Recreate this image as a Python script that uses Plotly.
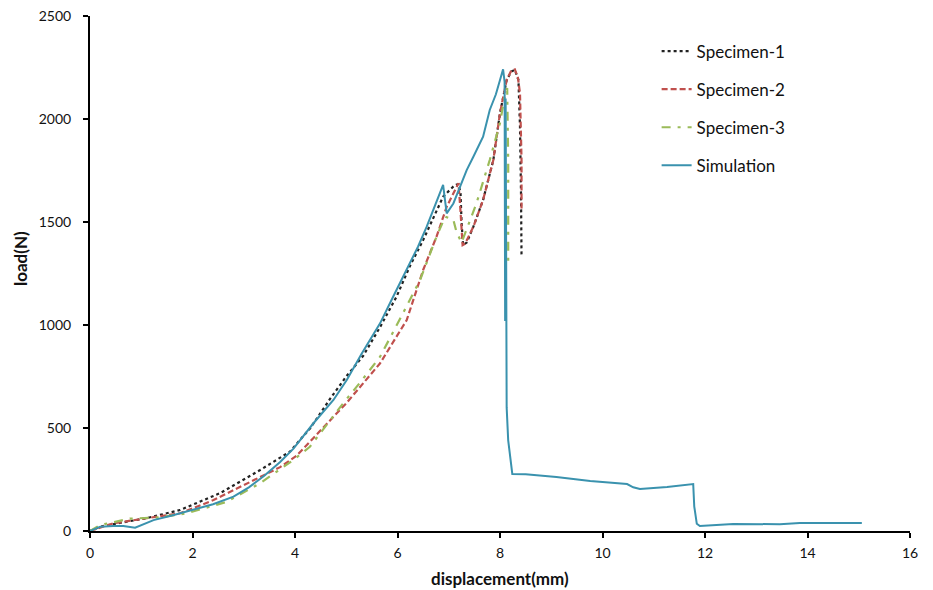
import plotly.graph_objects as go

# Simulation
sim_x = [0, 0.2, 0.45, 0.65, 0.88, 1.24, 1.6, 2.02, 2.4, 2.8, 3.1, 3.4, 3.71, 3.97, 4.36, 4.75, 5.01,
         5.3, 5.66, 5.9, 6.18, 6.4, 6.57, 6.75, 6.89, 6.93, 6.96, 7.09, 7.22, 7.35, 7.48, 7.67,
         7.8, 7.92, 8.0, 8.06, 8.09, 8.1, 8.11, 8.12, 8.13, 8.16, 8.2, 8.24, 8.5, 9.1, 9.76, 10.48,
         10.6, 10.73, 11.26, 11.6, 11.77, 11.79, 11.84, 11.9, 12.55, 13.46, 13.85, 15.06]
sim_y = [0, 21, 24, 24, 16, 53, 75, 102, 130, 167, 212, 268, 335, 400, 523, 636, 733,
         860, 1008, 1130, 1267, 1380, 1477, 1590, 1680, 1600, 1542, 1590, 1671, 1752, 1817, 1914,
         2044, 2120, 2189, 2241, 2180, 1020, 2100, 1000, 600, 440, 345, 277, 275, 262, 243, 228,
         212, 204, 214, 222, 228, 120, 35, 24, 34, 33, 39, 39]

# Specimen-1
s1_x = [0, 0.2, 0.6, 1.1, 1.76, 2.54, 3.32, 3.9, 4.3, 4.68, 5.0, 5.33, 5.66, 5.98, 6.25, 6.5,
        6.89, 7.12, 7.19, 7.23, 7.25, 7.28, 7.35, 7.48, 7.67, 7.87, 8.0, 8.13, 8.22, 8.29, 8.36,
        8.39, 8.41, 8.42]
s1_y = [0, 21, 40, 62, 102, 184, 296, 385, 500, 640, 750, 850, 990, 1137, 1290, 1412,
        1623, 1680, 1684, 1640, 1500, 1388, 1400, 1477, 1607, 1801, 2029, 2189, 2230, 2238, 2189,
        1962, 1640, 1331]

# Specimen-2
s2_x = [0, 0.45, 1.1, 1.76, 2.41, 3.19, 3.71, 4.03, 4.36, 5.0, 5.66, 6.18, 6.5, 6.76, 6.96,
        7.19, 7.23, 7.27, 7.32, 7.48, 7.67, 7.87, 8.0, 8.13, 8.22, 8.29, 8.35, 8.39, 8.42, 8.42]
s2_y = [0, 37, 62, 86, 150, 248, 310, 365, 450, 620, 814, 1024, 1267, 1428, 1574,
        1688, 1550, 1388, 1395, 1477, 1607, 1801, 2029, 2189, 2235, 2241, 2200, 2125, 1801, 1558]

# Specimen-3
s3_x = [0, 0.2, 0.78, 1.3, 1.89, 2.67, 3.32, 3.97, 4.29, 4.94, 5.3, 5.66, 6.05, 6.44, 6.76,
        6.93, 7.09, 7.15, 7.25, 7.54, 7.8, 8.0, 8.1, 8.14, 8.16, 8.16]
s3_y = [0, 29, 60, 65, 86, 142, 232, 345, 409, 620, 730, 846, 1030, 1218, 1428,
        1526, 1510, 1453, 1400, 1590, 1801, 1980, 2125, 2150, 1800, 1300]

x_ticks = [0, 2, 4, 6, 8, 10, 12, 14, 16]
y_ticks = [0, 500, 1000, 1500, 2000, 2500]

FONT = "Lato, 'Open Sans', sans-serif"

fig = go.Figure()
fig.add_trace(go.Scatter(x=s1_x, y=s1_y, mode="lines", name="Specimen-1", legendgroup="a",
                         line=dict(color="#222222", width=2.2, dash="dot")))
fig.add_trace(go.Scatter(x=s2_x, y=s2_y, mode="lines", name="Specimen-2", legendgroup="b",
                         line=dict(color="#C0504D", width=2.2, dash="6px,3px")))
fig.add_trace(go.Scatter(x=s3_x, y=s3_y, mode="lines", name="Specimen-3", legendgroup="c",
                         line=dict(color="#9BBB59", width=2.2, dash="9px,7px,3px,7px")))
fig.add_trace(go.Scatter(x=sim_x, y=sim_y, mode="lines", name="Simulation", legendgroup="d",
                         line=dict(color="#3A92AE", width=2)))

fig.update_layout(
    width=933, height=590,
    margin=dict(l=90, r=23, t=16, b=59, autoexpand=False),
    paper_bgcolor="white", plot_bgcolor="white",
    font=dict(family=FONT, size=14, color="#111111"),
    showlegend=True,
    legend=dict(x=0.691, y=0.966, xanchor="left", yanchor="top",
                bgcolor="rgba(0,0,0,0)", font=dict(size=17), tracegroupgap=13),
    xaxis=dict(range=[0, 16], tickvals=x_ticks, ticktext=[str(v) for v in x_ticks],
               showgrid=False, zeroline=False, showline=True, linecolor="black", linewidth=2,
               ticks="outside", ticklen=5, tickwidth=2, tickcolor="black",
               tickfont=dict(size=14), automargin=False, ticklabelstandoff=3),
    yaxis=dict(range=[0, 2500], tickvals=y_ticks, ticktext=[str(v) for v in y_ticks],
               showgrid=False, zeroline=False, showline=True, linecolor="black", linewidth=2,
               ticks="outside", ticklen=5, tickwidth=2, tickcolor="black",
               tickfont=dict(size=14), automargin=False, ticklabelstandoff=9),
    annotations=[
        dict(text="<b>displacement(mm)</b>", xref="paper", yref="paper",
             x=(500 - 90) / 820, y=(531 - 578) / 515, xanchor="center", yanchor="middle",
             showarrow=False, font=dict(size=17)),
        dict(text="<b>load(N)</b>", xref="paper", yref="paper",
             x=(20 - 90) / 820, y=(531 - 259) / 515, xanchor="center", yanchor="middle",
             textangle=-90, showarrow=False, font=dict(size=17)),
    ],
)

fig.write_html("out.html", config={"displayModeBar": False},
               post_script="document.body.style.margin='0';document.body.style.padding='0';")
